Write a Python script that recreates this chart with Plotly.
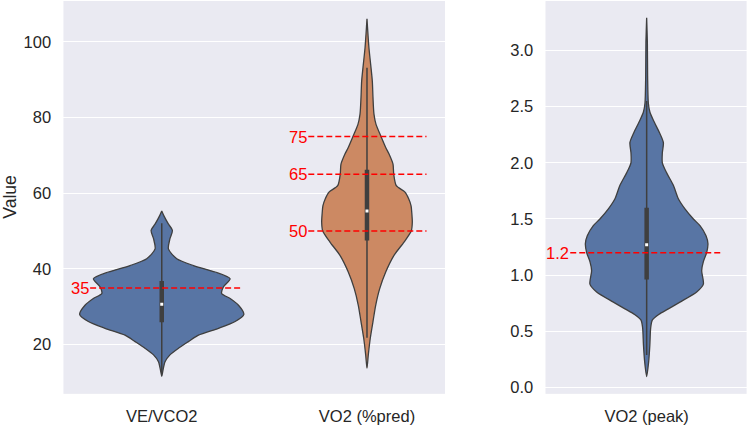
import plotly.graph_objects as go

# ---------------- data ----------------
# Violin outlines: value levels and relative half-widths (1.0 = widest violin)
vevco2_vals = [11.6, 12.9, 15.5, 17.3, 19.0, 20.8, 22.5, 24.3, 26.1, 28.0, 30.4, 32.2,
               33.5, 35.3, 37.4, 39.2, 40.9, 42.7, 45.3, 48.0, 50.2, 51.9, 54.1, 55.3]
vevco2_dens = [0.0, 0.012, 0.04, 0.10, 0.20, 0.325, 0.447, 0.69, 0.894, 1.0, 0.935, 0.833,
               0.73, 0.752, 0.833, 0.65, 0.386, 0.183, 0.081, 0.10, 0.13, 0.08, 0.025, 0.0]

vo2pred_vals = [13.8, 17.3, 21.7, 26.1, 30.4, 34.8, 39.2, 43.6, 47.1, 50.1, 52.4, 55.0,
                56.7, 58.5, 60.3, 62.0, 65.0, 67.7, 70.3, 72.1, 75.0, 78.2, 80.9, 85.3,
                89.6, 94.0, 98.4, 102.0, 106.1]
vo2pred_dens = [0.0, 0.016, 0.04, 0.073, 0.106, 0.155, 0.228, 0.329, 0.451, 0.54, 0.552, 0.545,
                0.537, 0.509, 0.463, 0.357, 0.326, 0.317, 0.27, 0.228, 0.171, 0.11, 0.085, 0.073,
                0.065, 0.045, 0.024, 0.012, 0.0]

vo2peak_vals = [0.097, 0.23, 0.38, 0.53, 0.60, 0.65, 0.70, 0.76, 0.85, 0.92, 1.04, 1.12, 1.20,
                1.28, 1.35, 1.44, 1.50, 1.59, 1.68, 1.80, 1.91, 2.00, 2.09, 2.18, 2.27,
                2.36, 2.45, 2.53, 2.77, 3.07, 3.29]
vo2peak_dens = [0.0, 0.025, 0.04, 0.05, 0.07, 0.15, 0.27, 0.414, 0.622, 0.705, 0.684, 0.705, 0.746,
                0.762, 0.738, 0.663, 0.581, 0.476, 0.394, 0.332, 0.249, 0.195, 0.195, 0.208, 0.158,
                0.096, 0.041, 0.021, 0.012, 0.009, 0.0]

# Box statistics: [whisker low, q1, median, q3, whisker high]
vevco2_box = [12.5, 25.9, 30.7, 36.8, 52.1]
vo2pred_box = [21.8, 47.5, 55.3, 66.2, 93.2]
vo2peak_box = [0.29, 0.96, 1.27, 1.60, 2.55]

# Reference thresholds
vevco2_refs = [35]
vo2pred_refs = [75, 65, 50]
vo2peak_refs = [1.2]

left_categories = ["VE/VCO2", "VO2 (%pred)"]
right_categories = ["VO2 (peak)"]

# ---------------- styling ----------------
BLUE = "#5875a4"
ORANGE = "#cc8963"
EDGE = "#3f3f3f"
BG = "#eaeaf2"
FONT = "Liberation Sans, Arial, sans-serif"
TXT = "#262626"
MAXW = 0.4

fig = go.Figure()


def add_violin(pos, vals, dens, color, xa, ya):
    xs_r = [pos + MAXW * d for d in dens]
    xs_l = [pos - MAXW * d for d in dens]
    xs = xs_r + xs_l[::-1]
    ys = list(vals) + list(vals)[::-1]
    fig.add_trace(go.Scatter(x=xs, y=ys, mode="lines", fill="toself", fillcolor=color,
                             line=dict(color=EDGE, width=1.3, shape="spline", smoothing=0.7),
                             xaxis=xa, yaxis=ya, hoverinfo="skip", showlegend=False))


def add_box(pos, box, xa, ya):
    lo, q1, med, q3, hi = box
    fig.add_trace(go.Scatter(x=[pos, pos], y=[lo, hi], mode="lines",
                             line=dict(color=EDGE, width=1.5), xaxis=xa, yaxis=ya,
                             hoverinfo="skip", showlegend=False))
    fig.add_trace(go.Scatter(x=[pos, pos], y=[q1, q3], mode="lines",
                             line=dict(color=EDGE, width=4.5), xaxis=xa, yaxis=ya,
                             hoverinfo="skip", showlegend=False))
    fig.add_trace(go.Scatter(x=[pos], y=[med], mode="markers",
                             marker=dict(color="white", size=3, symbol="square",
                                         line=dict(width=0)),
                             xaxis=xa, yaxis=ya, hoverinfo="skip", showlegend=False))


def add_refs(refs, x0, x1, labels, xa, ya):
    for r, lab in zip(refs, labels):
        fig.add_trace(go.Scatter(x=[x0, x1], y=[r, r], mode="lines",
                                 line=dict(color="red", width=1.5, dash="6px,3px"),
                                 xaxis=xa, yaxis=ya, hoverinfo="skip", showlegend=False))
        fig.add_annotation(x=x0, y=r, xref=xa, yref=ya, text=lab, showarrow=False,
                           xanchor="right", yanchor="middle", borderpad=0,
                           font=dict(color="red", size=16.5, family=FONT))


# left subplot
add_violin(0, vevco2_vals, vevco2_dens, BLUE, "x", "y")
add_violin(1, vo2pred_vals, vo2pred_dens, ORANGE, "x", "y")
add_box(0, vevco2_box, "x", "y")
add_box(1, vo2pred_box, "x", "y")
add_refs(vevco2_refs, -0.349, 0.39, [str(r) for r in vevco2_refs], "x", "y")
add_refs(vo2pred_refs, 1 - 0.286, 1 + 0.29, [str(r) for r in vo2pred_refs], "x", "y")

# right subplot
add_violin(0, vo2peak_vals, vo2peak_dens, BLUE, "x2", "y2")
add_box(0, vo2peak_box, "x2", "y2")
add_refs(vo2peak_refs, -0.38, 0.37, [str(r) for r in vo2peak_refs], "x2", "y2")

axis_common = dict(showline=False, zeroline=False, ticks="outside",
                   tickcolor="rgba(0,0,0,0)", tickfont=dict(size=16.5, color=TXT, family=FONT))

ydom = [0.0689, 0.9976]
fig.update_layout(
    width=749, height=425,
    margin=dict(l=0, r=0, t=0, b=0),
    paper_bgcolor="white", plot_bgcolor=BG,
    showlegend=False,
    xaxis=dict(domain=[0.0847, 0.5941], range=[-0.479, 1.380], tickvals=[0, 1],
               ticktext=left_categories, showgrid=False, ticklen=7, **axis_common),
    yaxis=dict(domain=ydom, range=[7.0, 110.8], tickvals=[20, 40, 60, 80, 100],
               showgrid=True, gridcolor="white", gridwidth=1.2, ticklen=8, **axis_common),
    xaxis2=dict(domain=[0.7283, 0.9968], range=[-0.503, 0.497], tickvals=[0],
                ticktext=right_categories, showgrid=False, ticklen=7, anchor="y2",
                **axis_common),
    yaxis2=dict(domain=ydom, range=[-0.057, 3.44], tickvals=[0, 0.5, 1.0, 1.5, 2.0, 2.5, 3.0],
                tickformat=".1f", showgrid=True, gridcolor="white", gridwidth=1.2,
                ticklen=8, anchor="x2", **axis_common),
)
fig.add_annotation(text="Value", x=10.5 / 749, y=0.5336, xref="paper", yref="paper",
                   textangle=-90, showarrow=False, xanchor="center", yanchor="middle",
                   font=dict(size=17.6, color=TXT, family=FONT))

fig.write_html("out.html")
